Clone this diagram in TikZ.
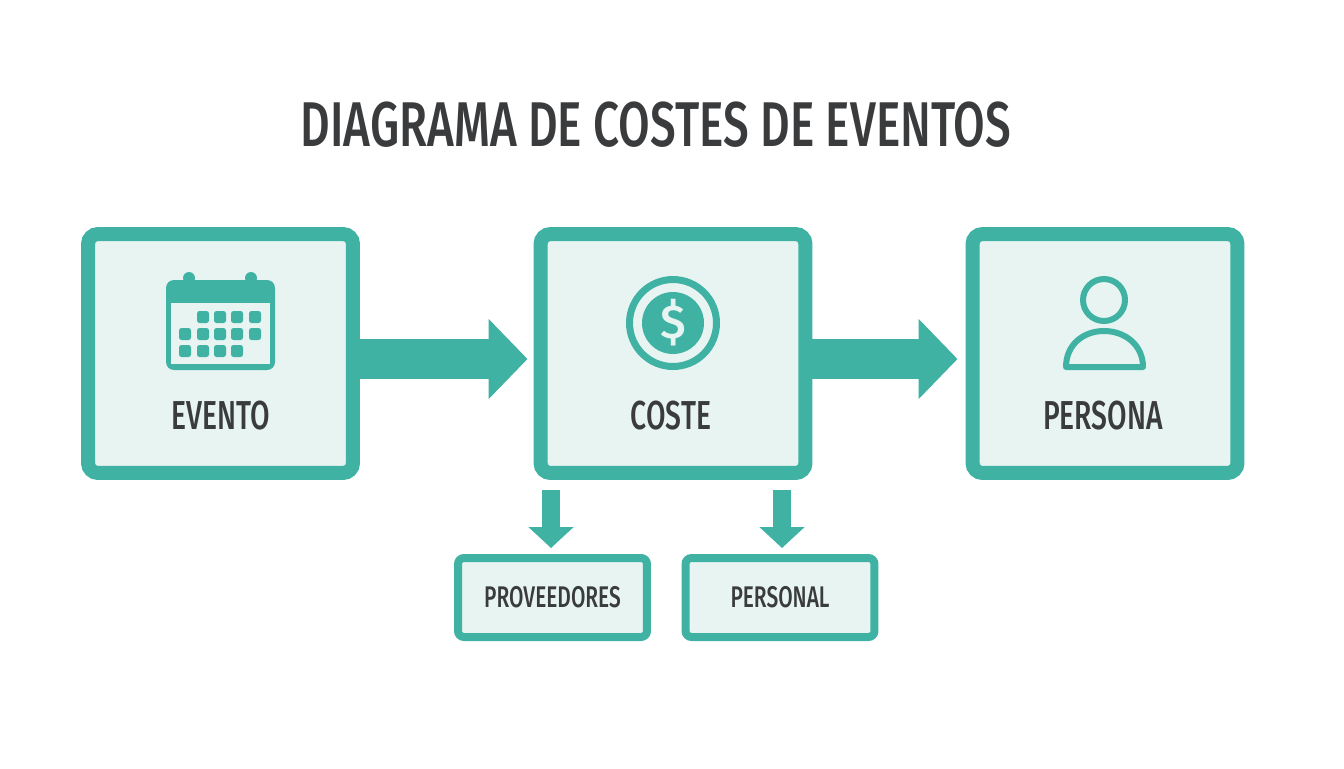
\documentclass[tikz,border=0pt]{standalone}
\usepackage{fontspec}
\usepackage{tikz}
\usetikzlibrary{arrows.meta}
\newfontfamily\labelfont[FakeStretch=0.70]{Fira Sans Medium}
\newfontfamily\titlefont[FakeStretch=0.725]{Fira Sans Medium}
\definecolor{tealmain}{HTML}{40B2A3}
\definecolor{tealpale}{HTML}{E7F4F2}
\definecolor{inkgrey}{HTML}{3A3B3D}
\tikzset{
bigbox/.style={draw=tealmain,fill=tealpale,line width=0.28cm,rounded corners=0.2cm,minimum width=5.3cm,minimum height=4.78cm},
smallbox/.style={draw=tealmain,fill=tealpale,line width=0.16cm,rounded corners=0.12cm,minimum width=3.78cm,minimum height=1.58cm,text=inkgrey,font=\labelfont\fontsize{17}{20}\selectfont},
biglabel/.style={text=inkgrey,font=\labelfont\fontsize{23}{26}\selectfont},
bigarrow/.style={draw=tealmain,line width=0.8cm,-{Triangle[length=0.78cm,width=1.56cm,fill=tealmain]}},
downarrow/.style={draw=tealmain,line width=0.37cm,-{Triangle[length=0.42cm,width=0.88cm,fill=tealmain]}},
iconline/.style={draw=tealmain,line width=0.12cm}
}
\begin{document}
\begin{tikzpicture}[x=0.02cm,y=-0.02cm]
\useasboundingbox[fill=white](0,0) rectangle (1344,768);
\node[text=inkgrey,font=\titlefont\fontsize{36}{40}\selectfont] (title) at (656,125) {DIAGRAMA DE COSTES DE EVENTOS};
\node[bigbox] (evento) at (220.5,353.5) {};
\node[bigbox] (coste) at (673,353.5) {};
\node[bigbox] (persona) at (1105,353.5) {};
\node[smallbox] (proveedores) at (552.5,597.5) {PROVEEDORES};
\node[smallbox] (personal) at (780,597.5) {PERSONAL};
\node[biglabel] (eventolabel) at (220.5,416) {EVENTO};
\node[biglabel] (costelabel) at (671,416) {COSTE};
\node[biglabel] (personalabel) at (1103,416) {PERSONA};
\draw[bigarrow,shorten >=0.12cm]([yshift=-0.11cm]evento.east)--([yshift=-0.11cm]coste.west);
\draw[bigarrow,shorten >=0.16cm]([yshift=-0.11cm]coste.east)--([yshift=-0.11cm]persona.west);
\draw[downarrow,shorten <=0.2cm,shorten >=0.12cm]([xshift=-0.03cm]proveedores.north |- coste.south)--([xshift=-0.03cm]proveedores.north);
\draw[downarrow,shorten <=0.2cm,shorten >=0.12cm]([xshift=0.04cm]personal.north |- coste.south)--([xshift=0.04cm]personal.north);
% calendar
\draw[fill=tealmain,draw=none](189,278) circle (0.12cm);
\draw[fill=tealmain,draw=none](251,278) circle (0.12cm);
\draw[fill=tealmain,draw=none,rounded corners=0.16cm](166,280) rectangle (275,370);
\fill[tealpale](171,303) rectangle (270,364);
\foreach \x/\y in {203/317,220/317,237/317,255/317,185/334,203/334,220/334,237/334,255/334,185/351,203/351,220/351,237/351}
\fill[tealmain,rounded corners=0.05cm](\x-6,\y-6) rectangle (\x+6,\y+6);
% coin
\draw[tealmain,line width=0.14cm,fill=none](673,323) circle (0.87cm);
\node[circle,fill=tealmain,text=tealpale,minimum size=1.24cm,inner sep=0pt,font=\fontspec{Fira Sans Medium}\fontsize{27}{30}\selectfont] (dollar) at (673,323) {\$};
% person
\draw[iconline](1104,300) circle (0.42cm);
\draw[iconline,line join=round](1066,367)--(1143,367) .. controls (1143,345) and (1125,331) .. (1104,331) .. controls (1083,331) and (1066,345) .. (1066,367)--cycle;
\end{tikzpicture}
\end{document}
